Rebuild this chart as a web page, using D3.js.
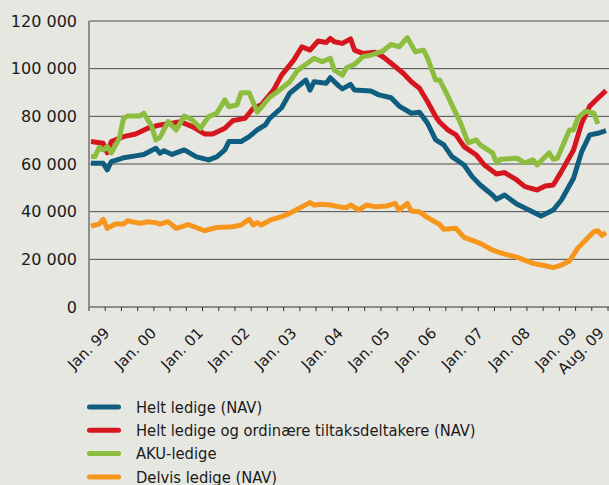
<!DOCTYPE html>
<html>
<head>
<meta charset="utf-8">
<script src="https://cdn.jsdelivr.net/npm/d3@7"></script>
<style>
  body { margin: 0; background: #e7e7e2; }
  svg { display: block; }
</style>
</head>
<body>
<div id="container"></div>
<script>
// month index 0 = Jan. 99, 127 = Aug. 09
const heltLedige = [
  [0, 60300], [3, 60300], [4, 57500], [5, 61000], [8, 62600], [11, 63400], [13, 64000],
  [16, 66600], [17, 64500], [18, 65600], [20, 64000], [23, 65900], [26, 63000], [29, 61700],
  [31, 63000], [33, 65900], [34, 69400], [37, 69400], [39, 71500], [41, 74300], [43, 76400],
  [44, 79000], [47, 83600], [49, 89700], [52, 93900], [53, 95200], [54, 91000], [55, 94500],
  [58, 93900], [59, 96200], [61, 92900], [62, 91500], [64, 93400], [65, 91000], [69, 90600],
  [71, 89000], [74, 87800], [76, 84300], [79, 81300], [81, 81700], [83, 77100], [85, 70100],
  [87, 68000], [89, 63100], [92, 59600], [94, 54700], [96, 51200], [99, 47000], [100, 45200],
  [102, 47000], [105, 43200], [108, 40700], [111, 38200], [114, 40700], [116, 44900],
  [119, 54000], [121, 65200], [123, 72200], [125, 72900], [127, 74000]
];

const heltOgTiltak = [
  [0, 69400], [3, 68700], [4, 64700], [5, 69400], [8, 71500], [11, 72600], [14, 75000],
  [17, 76400], [20, 77100], [22, 77800], [25, 75700], [28, 72600], [30, 72600], [33, 75000],
  [35, 78200], [38, 79200], [40, 83400], [42, 84800], [45, 91000], [47, 97300], [50, 103600],
  [52, 109200], [54, 107800], [56, 111600], [58, 111000], [59, 112700], [60, 111300],
  [62, 110600], [64, 112500], [65, 107800], [67, 106400], [70, 106900], [72, 105000],
  [74, 102300], [77, 98100], [79, 94500], [81, 91800], [83, 86100], [85, 79900], [86, 77500],
  [88, 74300], [90, 72200], [92, 67300], [95, 63800], [97, 59600], [100, 55800], [102, 56400],
  [105, 53300], [107, 50500], [110, 49100], [112, 50800], [114, 51200], [116, 56800],
  [119, 65900], [121, 77100], [123, 84300], [125, 87600], [127, 90800]
];

const akuLedige = [
  [0, 63100], [1, 63100], [2, 67000], [3, 65900], [4, 67300], [5, 64700], [7, 70800],
  [8, 79200], [9, 80100], [12, 80100], [13, 81300], [15, 75700], [16, 70100], [17, 71200],
  [19, 77800], [21, 74300], [23, 80100], [25, 78500], [27, 75000], [29, 79900], [31, 81300],
  [33, 86900], [34, 84000], [36, 84800], [37, 89900], [39, 89900], [41, 81800], [44, 87900],
  [46, 90300], [49, 94500], [51, 99400], [53, 101800], [55, 104400], [57, 102900],
  [59, 104400], [60, 99400], [62, 97300], [63, 100400], [65, 101800], [67, 105000],
  [69, 105700], [72, 107400], [74, 110200], [76, 109200], [78, 113000], [80, 107100],
  [82, 107800], [83, 104400], [85, 95200], [86, 95200], [88, 88500], [89, 84800], [91, 77800],
  [93, 68900], [95, 70100], [96, 68000], [99, 64700], [100, 60500], [101, 62000], [105, 62400],
  [107, 60500], [109, 61700], [110, 59600], [113, 64700], [114, 62000], [115, 62400],
  [118, 74300], [119, 74300], [120, 79200], [122, 82200], [124, 81300], [125, 76800]
];

const delvisLedige = [
  [0, 34000], [2, 34800], [3, 36800], [4, 33000], [6, 34800], [8, 34800], [9, 36200],
  [12, 35100], [14, 35800], [16, 35400], [17, 34800], [19, 35800], [21, 33000], [24, 34600],
  [28, 32000], [31, 33400], [35, 33700], [37, 34400], [39, 36800], [40, 34400], [41, 35400],
  [42, 34400], [44, 36300], [47, 37900], [49, 39300], [51, 41100], [54, 43800], [55, 42800],
  [57, 43100], [59, 42800], [61, 42100], [63, 41700], [64, 42800], [66, 40700], [68, 42800],
  [70, 42100], [73, 42400], [75, 43500], [76, 40700], [78, 43500], [79, 40300], [81, 40000],
  [83, 37500], [86, 34600], [87, 32600], [90, 33000], [92, 29200], [96, 26700], [99, 23900],
  [102, 22200], [105, 20900], [109, 18300], [112, 17300], [114, 16500], [116, 17600],
  [118, 19300], [120, 24600], [122, 28100], [124, 31600], [125, 32000], [126, 30000],
  [127, 31200]
];

const seriesNames = [
  'Helt ledige (NAV)',
  'Helt ledige og ordinære tiltaksdeltakere (NAV)',
  'AKU-ledige',
  'Delvis ledige (NAV)'
];
const seriesColors = ['#0f5e80', '#d5161f', '#8cbd3e', '#f7961d'];

const yTicks = [0, 20000, 40000, 60000, 80000, 100000, 120000];
const xLabelMonths = [0, 12, 24, 36, 48, 60, 72, 84, 96, 108, 120, 127];
const xLabels = ['Jan. 99', 'Jan. 00', 'Jan. 01', 'Jan. 02', 'Jan. 03', 'Jan. 04',
  'Jan. 05', 'Jan. 06', 'Jan. 07', 'Jan. 08', 'Jan. 09', 'Aug. 09'];

const width = 609;
const height = 485;

const svg = d3.select('#container').append('svg')
  .attr('width', width)
  .attr('height', height);

// 128 monthly categories, points in the middle of each
const x = d3.scaleLinear().domain([0, 128]).range([89, 608]);
const y = d3.scaleLinear().domain([0, 120000]).range([307, 21]);

// label positions (excel spreads them slightly tighter than the categories)
const labelX = d3.scaleLinear().domain([0, 127]).range([x(0.5) + 19.5, x(127.5) - 1]);

const fmt = d3.formatLocale({ decimal: ',', thousands: ' ', grouping: [3], currency: ['', ''] }).format(',');

//gridlines
svg.selectAll('.grid')
  .data(yTicks)
  .enter()
  .append('line')
  .attr('x1', x(0))
  .attr('x2', width)
  .attr('y1', d => y(d))
  .attr('y2', d => y(d))
  .attr('stroke', d => d === 0 ? '#333' : '#4a4a4a')
  .attr('stroke-width', 1);

//y labels
svg.selectAll('.ylab')
  .data(yTicks)
  .enter()
  .append('text')
  .attr('x', 77)
  .attr('y', d => y(d))
  .attr('dy', '0.36em')
  .attr('text-anchor', 'end')
  .style('font-family', '"DejaVu Sans", Verdana, sans-serif')
  .style('font-size', '16px')
  .attr('fill', '#1a1a1a')
  .text(d => fmt(d));

//left axis
svg.append('line')
  .attr('x1', x(0)).attr('x2', x(0))
  .attr('y1', y(120000)).attr('y2', y(0))
  .attr('stroke', '#8e8e8e')
  .attr('stroke-width', 2);

//x ticks every 4 months
svg.selectAll('.xtick')
  .data(d3.range(0, 129, 4))
  .enter()
  .append('line')
  .attr('x1', d => x(d)).attr('x2', d => x(d))
  .attr('y1', y(0)).attr('y2', y(0) + 4)
  .attr('stroke', '#333');

//x labels
svg.selectAll('.xlab')
  .data(xLabelMonths)
  .enter()
  .append('text')
  .attr('transform', d => `translate(${labelX(d)},334) rotate(-45)`)
  .attr('text-anchor', 'end')
  .style('font-family', '"DejaVu Sans", Verdana, sans-serif')
  .style('font-size', '15px')
  .attr('fill', '#1a1a1a')
  .text((d, i) => xLabels[i]);

const line = d3.line()
  .x(d => x(d[0] + 0.5))
  .y(d => y(d[1]));

const allSeries = [heltLedige, heltOgTiltak, akuLedige, delvisLedige];

svg.selectAll('.series')
  .data(allSeries)
  .enter()
  .append('path')
  .attr('d', line)
  .attr('fill', 'none')
  .attr('stroke', (d, i) => seriesColors[i])
  .attr('stroke-width', 5)
  .attr('stroke-linejoin', 'round');

//legend
const legend = svg.selectAll('.legend')
  .data(seriesNames)
  .enter()
  .append('g')
  .attr('transform', (d, i) => `translate(0,${407 + i * 23.3})`);

legend.append('line')
  .attr('x1', 89.5).attr('x2', 118.5)
  .attr('stroke', (d, i) => seriesColors[i])
  .attr('stroke-width', 5)
  .attr('stroke-linecap', 'round');

legend.append('text')
  .attr('x', 136)
  .attr('dy', '0.35em')
  .style('font-family', '"Liberation Sans Narrow", "DejaVu Sans Condensed", Roboto, sans-serif')
  .style('font-size', '16.4px')
  .attr('fill', '#1a1a1a')
  .text(d => d);
</script>
</body>
</html>
